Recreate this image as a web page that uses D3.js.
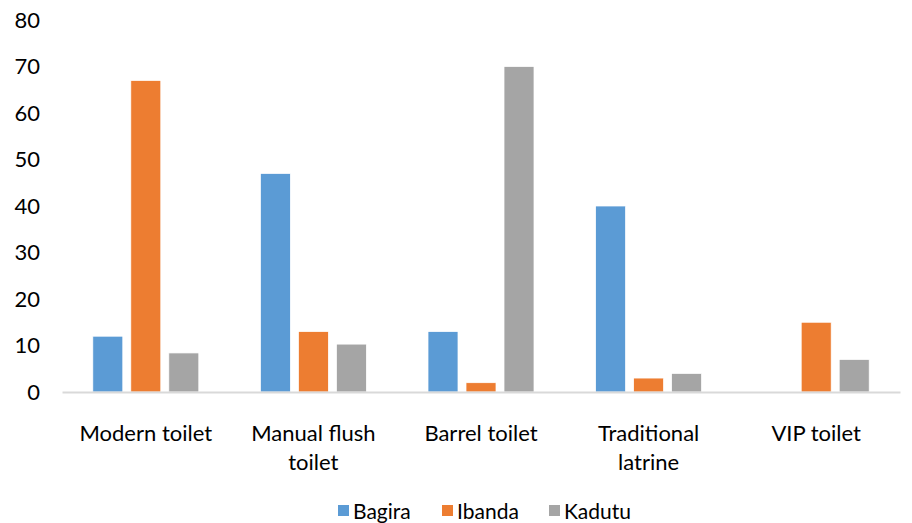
<!DOCTYPE html>
<html><head><meta charset="utf-8">
<script src="https://cdn.jsdelivr.net/npm/d3@7/dist/d3.min.js"></script>
<style>body{margin:0;background:#fff;} svg{display:block;}</style>
</head><body>
<script>
const categories = [["Modern toilet"], ["Manual flush", "toilet"], ["Barrel toilet"], ["Traditional", "latrine"], ["VIP toilet"]];
const seriesNames = ["Bagira", "Ibanda", "Kadutu"];
const bagira = [12, 47, 13, 40, 0];
const ibanda = [67, 13, 2, 3, 15];
const kadutu = [8.4, 10.3, 70, 4, 7];
const yTicks = [0, 10, 20, 30, 40, 50, 60, 70, 80];
const colors = ["#5B9BD5", "#ED7D31", "#A5A5A5"];

const W = 912, H = 523;
const font = "Lato, 'Open Sans', sans-serif";
const svg = d3.select("body").append("svg").attr("width", W).attr("height", H);
const seriesVals = [bagira, ibanda, kadutu];
const catKeys = categories.map(c => c.join(" "));

const y = d3.scaleLinear().domain([0, 80]).range([392, 20]);
const x0 = d3.scaleBand().domain(catKeys).range([62, 900]).padding(0);
const gw = 106;
const x1 = d3.scaleBand().domain(seriesNames)
  .range([(x0.bandwidth() - gw) / 2, (x0.bandwidth() + gw) / 2])
  .paddingInner(8 / 38).paddingOuter(0);

// y labels
const yAxis = d3.axisLeft(y).tickValues(yTicks).tickSize(0).tickPadding(0);
const ya = svg.append("g").attr("transform", "translate(40,0)").call(yAxis);
ya.select(".domain").remove();
ya.selectAll("text").attr("font-family", font).attr("font-size", 22).attr("fill", "#000");

// bars
catKeys.forEach((ck, ci) => {
  const g = svg.append("g").attr("transform", `translate(${x0(ck)},0)`);
  seriesNames.forEach((s, si) => {
    const v = seriesVals[si][ci];
    if (v <= 0) return;
    g.append("rect")
      .attr("x", x1(s)).attr("width", x1.bandwidth())
      .attr("y", y(v)).attr("height", y(0) - y(v))
      .attr("fill", colors[si]).attr("stroke", "#fff").attr("stroke-width", 0.75);
  });
});

// x axis
const xAxis = d3.axisBottom(x0).tickSize(0).tickFormat(() => "");
const xa = svg.append("g").attr("transform", `translate(0,${y(0)})`).call(xAxis);
xa.select(".domain").attr("stroke", "#D9D9D9").attr("stroke-width", 2);

// category labels
catKeys.forEach((ck, ci) => {
  const t = svg.append("text").attr("x", x0(ck) + x0.bandwidth() / 2).attr("y", 441)
    .attr("text-anchor", "middle").attr("font-family", font).attr("font-size", 22).attr("fill", "#000");
  categories[ci].forEach((line, li) => {
    t.append("tspan").attr("x", x0(ck) + x0.bandwidth() / 2).attr("dy", li === 0 ? 0 : 29).text(line);
  });
});

// legend
const legendX = [338, 442, 549];
seriesNames.forEach((s, si) => {
  const g = svg.append("g").attr("transform", `translate(${legendX[si]},0)`);
  g.append("rect").attr("x", 0).attr("y", 505).attr("width", 11).attr("height", 11).attr("fill", colors[si]);
  g.append("text").attr("x", 15).attr("y", 519).attr("font-family", font).attr("font-size", 21).attr("fill", "#000").text(s);
});
</script>
</body></html>
